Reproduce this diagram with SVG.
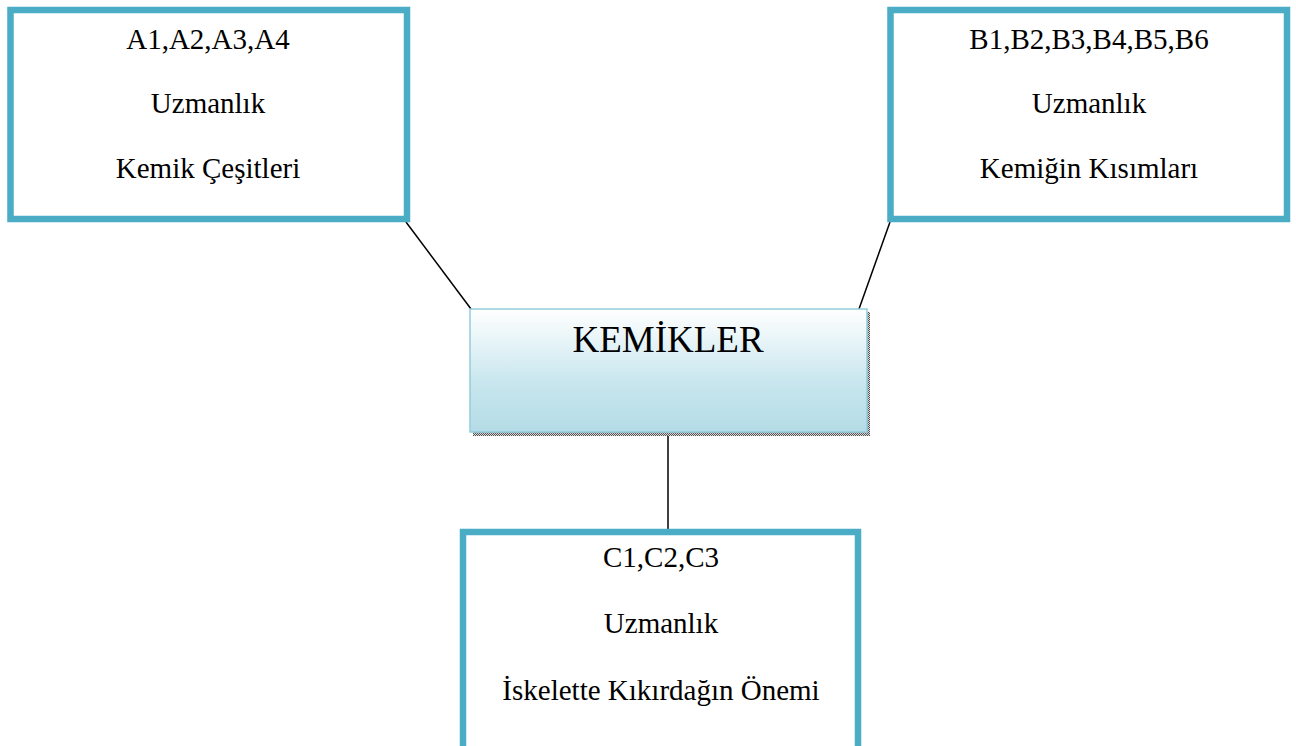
<svg xmlns="http://www.w3.org/2000/svg" width="1296" height="746" viewBox="0 0 1296 746">
<style>
.box{fill:#ffffff;stroke:#4bacc6;stroke-width:6.5}
.t{font-family:"Liberation Serif","Times New Roman",serif;font-size:29px;fill:#000;text-anchor:middle}
.big{font-family:"Liberation Serif","Times New Roman",serif;font-size:37px;fill:#000;text-anchor:middle}
.con{stroke:#000;stroke-width:1.5;fill:none}
</style>
<defs>
<linearGradient id="g" x1="0" y1="0" x2="0" y2="1">
<stop offset="0" stop-color="#ffffff"/>
<stop offset="0.6" stop-color="#c8e6ee"/>
<stop offset="1" stop-color="#b4dce6"/>
</linearGradient>
<pattern id="dots" width="2" height="2" patternUnits="userSpaceOnUse">
<rect width="2" height="2" fill="#d8d8d8"/>
<rect width="1" height="1" fill="#555"/>
<rect x="1" y="1" width="1" height="1" fill="#555"/>
</pattern>
</defs>
<rect width="1296" height="746" fill="#ffffff"/>
<g id="connectors">
<line class="con" x1="406" y1="222" x2="471" y2="309"/>
<line class="con" x1="890" y1="222" x2="859" y2="309"/>
<line class="con" x1="668" y1="433" x2="668" y2="530"/>
</g>
<g id="nodeA">
<rect class="box" x="10.5" y="10" width="396.5" height="209"/>
<text class="t" x="208" y="49">A1,A2,A3,A4</text>
<text class="t" x="208" y="113">Uzmanlık</text>
<text class="t" x="208" y="178">Kemik Çeşitleri</text>
</g>
<g id="nodeB">
<rect class="box" x="890.5" y="10" width="396.5" height="209"/>
<text class="t" x="1089" y="49">B1,B2,B3,B4,B5,B6</text>
<text class="t" x="1089" y="113">Uzmanlık</text>
<text class="t" x="1089" y="178">Kemiğin Kısımları</text>
</g>
<g id="nodeC">
<rect class="box" x="463" y="532" width="395" height="220"/>
<text class="t" x="661" y="567">C1,C2,C3</text>
<text class="t" x="661" y="633">Uzmanlık</text>
<text class="t" x="661" y="700">İskelette Kıkırdağın Önemi</text>
</g>
<g id="center">
<rect x="473" y="312" width="397" height="124" fill="url(#dots)"/>
<rect x="470" y="309" width="397" height="123" fill="url(#g)" stroke="#92cddc" stroke-width="1.5"/>
<text class="big" x="668" y="352">KEMİKLER</text>
</g>
</svg>
